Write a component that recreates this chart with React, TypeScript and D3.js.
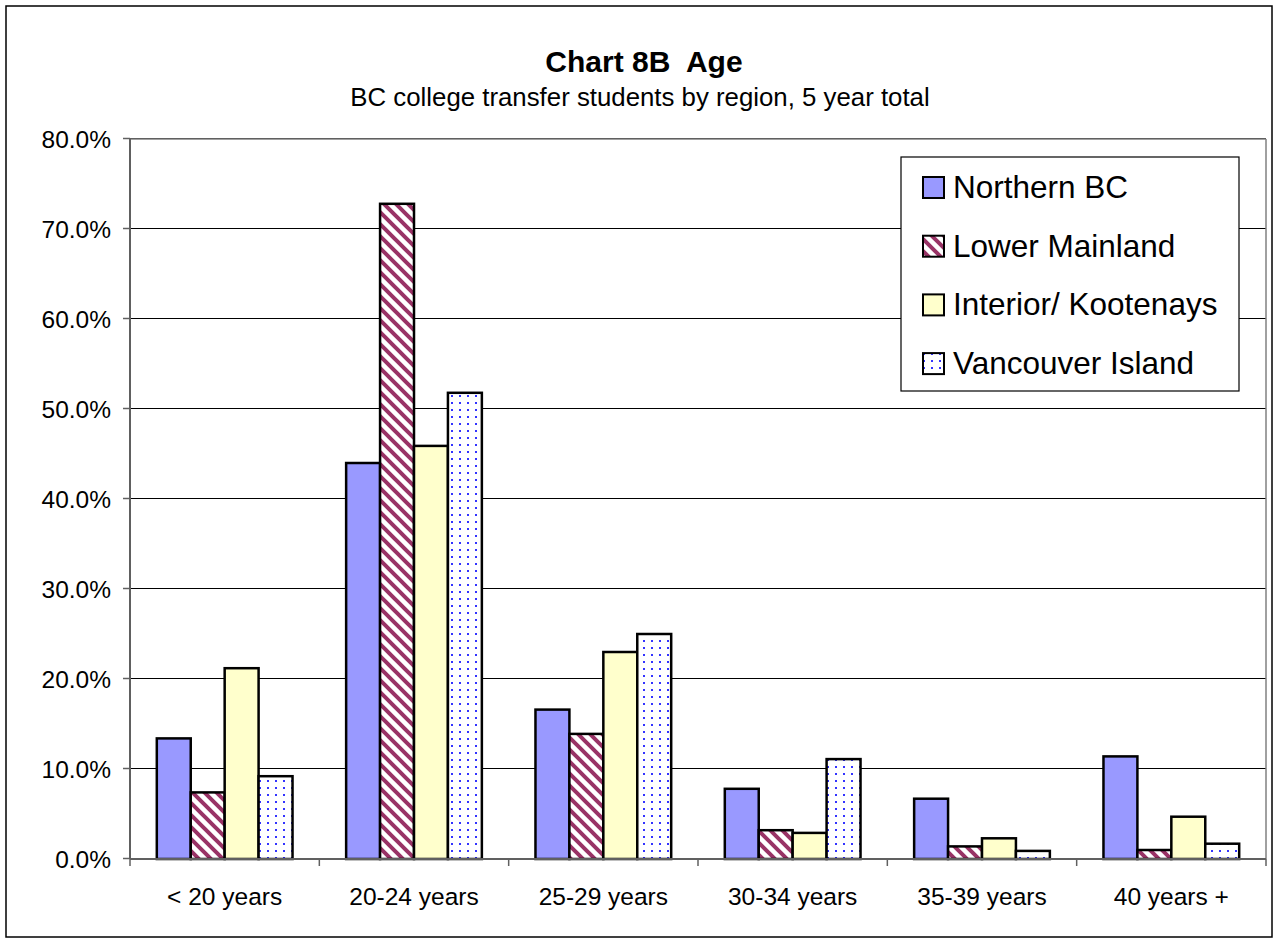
import React from "react";
import * as d3 from "d3";

const categories = ["< 20 years", "20-24 years", "25-29 years", "30-34 years", "35-39 years", "40 years +"];
const seriesNames = ["Northern BC", "Lower Mainland", "Interior/ Kootenays", "Vancouver Island"];
const northernBC = [13.4, 44.0, 16.6, 7.8, 6.7, 11.4];
const lowerMainland = [7.4, 72.8, 13.9, 3.2, 1.4, 1.0];
const interiorKootenays = [21.2, 45.9, 23.0, 2.9, 2.3, 4.7];
const vancouverIsland = [9.2, 51.8, 25.0, 11.1, 0.9, 1.7];
const yTicks = [0, 10, 20, 30, 40, 50, 60, 70, 80];

const seriesValues = [northernBC, lowerMainland, interiorKootenays, vancouverIsland];
const fills = ["#9999ff", "url(#diag)", "#ffffcc", "url(#dots)"];

const W = 1278;
const H = 943;
const plotL = 130;
const plotR = 1266;
const plotT = 139;
const plotB = 859;
const FONT = "'Liberation Sans', Arial, sans-serif";

export default function App() {
  const x0 = d3.scaleBand<string>().domain(categories).range([plotL, plotR]).paddingInner(0).paddingOuter(0);
  const x1 = d3
    .scaleBand<string>()
    .domain(seriesNames)
    .range([0, x0.bandwidth()])
    .paddingInner(0)
    .paddingOuter(0.79);
  const y = d3.scaleLinear().domain([0, 80]).range([plotB, plotT]);
  const fmt = (v: number) => v.toFixed(1) + "%";

  const legendX = 901;
  const legendY = 157;
  const legendW = 338;
  const legendH = 234;
  const rowStep = 58.7;
  const firstRow = 187;

  return (
    <svg
      width={W}
      height={H}
      style={{ position: "absolute", left: 0, top: 0, display: "block", background: "#fff" }}
      fontFamily={FONT}
    >
      <defs>
        <pattern id="diag" patternUnits="userSpaceOnUse" width={12} height={12}>
          <rect width={12} height={12} fill="#fff" />
          <path
            d="M-3,-3 L15,15 M-3,9 L3,15 M9,-3 L15,3"
            stroke="#993366"
            strokeWidth={4}
          />
        </pattern>
        <pattern id="dots" patternUnits="userSpaceOnUse" width={8} height={7}>
          <rect width={8} height={7} fill="#fff" />
          <rect x={3} y={3} width={2} height={2} fill="#3333ff" />
        </pattern>
      </defs>

      <rect x={6} y={6} width={1266} height={931} fill="#fff" stroke="#000" strokeWidth={1.5} />

      <text x={644} y={72} textAnchor="middle" fontWeight="bold" fontSize={30}>
        {"Chart 8B\u00a0 Age"}
      </text>
      <text x={640} y={106} textAnchor="middle" fontSize={25.8}>
        BC college transfer students by region, 5 year total
      </text>

      {/* gridlines */}
      {yTicks.map((t) => (
        <line key={"g" + t} x1={plotL} x2={plotR} y1={y(t) - 0.5} y2={y(t) - 0.5} stroke="#000" strokeWidth={1} />
      ))}
      <line x1={plotL} x2={plotR} y1={plotT} y2={plotT} stroke="#808080" strokeWidth={1.5} />
      <line x1={plotR} x2={plotR} y1={plotT} y2={plotB} stroke="#808080" strokeWidth={1.5} />

      {/* bars */}
      {categories.map((c, ci) => (
        <g key={c}>
          {seriesNames.map((s, si) => {
            const v = seriesValues[si][ci];
            const bx = (x0(c) ?? 0) + (x1(s) ?? 0);
            return (
              <rect
                key={s}
                x={bx}
                y={y(v)}
                width={x1.bandwidth()}
                height={plotB - y(v)}
                fill={fills[si]}
                stroke="#000"
                strokeWidth={2.5}
              />
            );
          })}
        </g>
      ))}

      {/* y axis */}
      <line x1={plotL} x2={plotL} y1={plotT} y2={plotB} stroke="#606060" strokeWidth={2} />
      {yTicks.map((t) => (
        <g key={"yt" + t}>
          <line x1={plotL - 7} x2={plotL} y1={y(t) - 0.5} y2={y(t) - 0.5} stroke="#606060" strokeWidth={1.5} />
          <text x={111} y={y(t) + 8.5} textAnchor="end" fontSize={24.5}>
            {fmt(t)}
          </text>
        </g>
      ))}

      {/* x axis */}
      <line x1={plotL} x2={plotR} y1={plotB} y2={plotB} stroke="#606060" strokeWidth={2} />
      {categories.map((c) => (
        <line
          key={"xt" + c}
          x1={x0(c) ?? 0}
          x2={x0(c) ?? 0}
          y1={plotB}
          y2={plotB + 7}
          stroke="#606060"
          strokeWidth={1.5}
        />
      ))}
      <line x1={plotR} x2={plotR} y1={plotB} y2={plotB + 7} stroke="#606060" strokeWidth={1.5} />
      {categories.map((c) => (
        <text
          key={"xl" + c}
          x={(x0(c) ?? 0) + x0.bandwidth() / 2}
          y={905}
          textAnchor="middle"
          fontSize={24.5}
        >
          {c}
        </text>
      ))}

      {/* legend */}
      <rect x={legendX} y={legendY} width={legendW} height={legendH} fill="#fff" stroke="#000" strokeWidth={1.2} />
      {seriesNames.map((s, i) => {
        const cy = firstRow + i * rowStep;
        return (
          <g key={"lg" + s}>
            <rect x={923} y={cy - 10} width={21} height={21} fill={fills[i]} stroke="#000" strokeWidth={2} />
            <text x={953} y={cy + 11} fontSize={31.5}>
              {s}
            </text>
          </g>
        );
      })}
    </svg>
  );
}
